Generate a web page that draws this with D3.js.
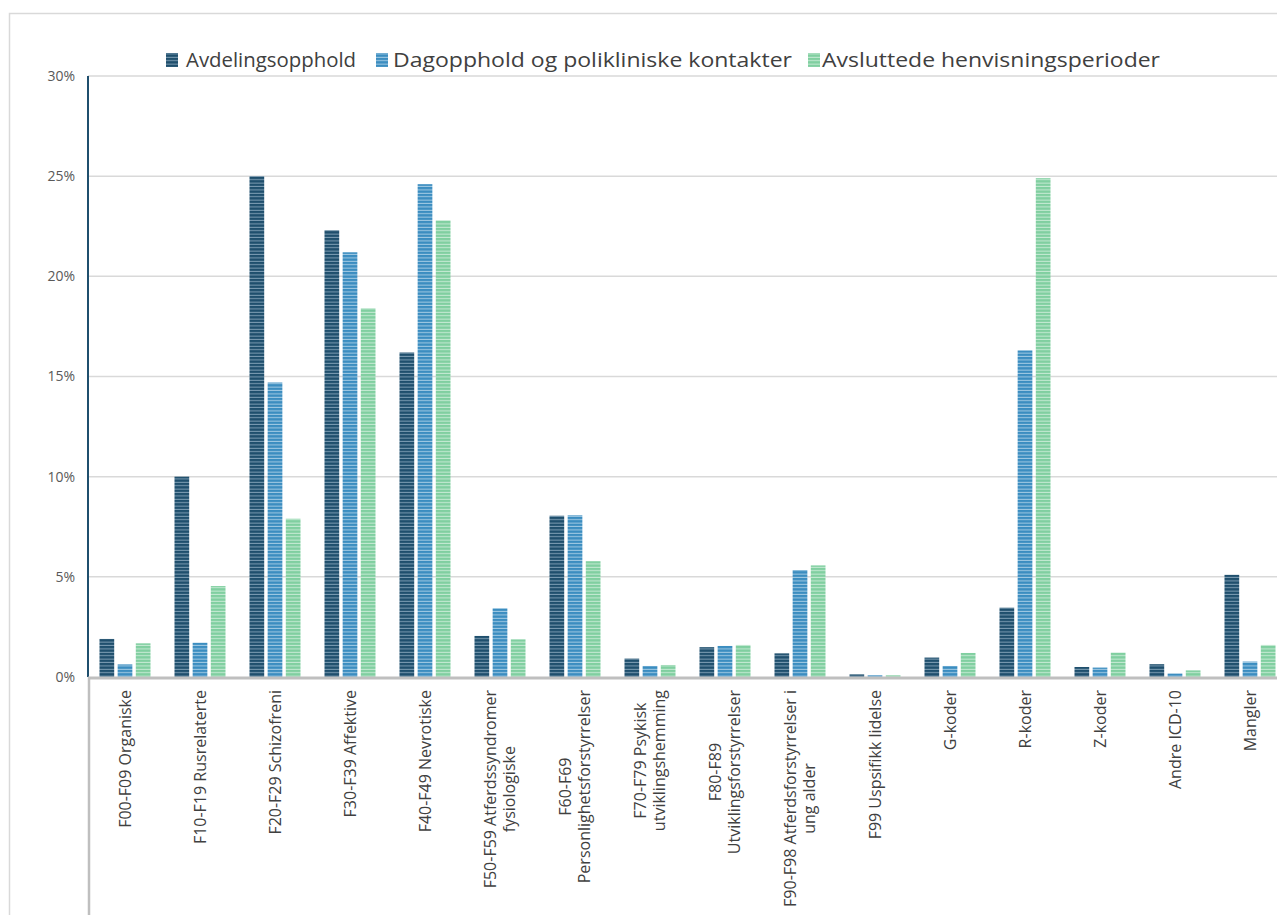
<!DOCTYPE html>
<html>
<head>
<meta charset="utf-8">
<script src="https://cdn.jsdelivr.net/npm/d3@7"></script>
<style>
  html, body { margin: 0; padding: 0; background: #fff; }
  svg { display: block; }
</style>
</head>
<body>
<svg id="chart" width="1277" height="915"></svg>
<script>
// Diagnosis groups
const categories = [
  "F00-F09 Organiske",
  "F10-F19 Rusrelaterte",
  "F20-F29 Schizofreni",
  "F30-F39 Affektive",
  "F40-F49 Nevrotiske",
  "F50-F59 Atferdssyndromer fysiologiske",
  "F60-F69 Personlighetsforstyrrelser",
  "F70-F79 Psykisk utviklingshemming",
  "F80-F89 Utviklingsforstyrrelser",
  "F90-F98 Atferdsforstyrrelser i ung alder",
  "F99 Uspsifikk lidelse",
  "G-koder",
  "R-koder",
  "Z-koder",
  "Andre ICD-10",
  "Mangler"
];
// How each category label wraps under the axis
const categoryLines = [
  ["F00-F09 Organiske"],
  ["F10-F19 Rusrelaterte"],
  ["F20-F29 Schizofreni"],
  ["F30-F39 Affektive"],
  ["F40-F49 Nevrotiske"],
  ["F50-F59 Atferdssyndromer", "fysiologiske"],
  ["F60-F69", "Personlighetsforstyrrelser"],
  ["F70-F79 Psykisk", "utviklingshemming"],
  ["F80-F89", "Utviklingsforstyrrelser"],
  ["F90-F98 Atferdsforstyrrelser i", "ung alder"],
  ["F99 Uspsifikk lidelse"],
  ["G-koder"],
  ["R-koder"],
  ["Z-koder"],
  ["Andre ICD-10"],
  ["Mangler"]
];

const seriesNames = [
  "Avdelingsopphold",
  "Dagopphold og polikliniske kontakter",
  "Avsluttede henvisningsperioder"
];

// Shares (fraction of total) per diagnosis group
const avdelingsopphold = [0.019, 0.100, 0.250, 0.223, 0.162, 0.0205, 0.0805, 0.0092, 0.0149, 0.0118, 0.0013, 0.0097, 0.0346, 0.0050, 0.0064, 0.0510];
const dagopphold       = [0.0063, 0.0171, 0.147, 0.212, 0.246, 0.0343, 0.0807, 0.0055, 0.0155, 0.0534, 0.0009, 0.0055, 0.163, 0.0047, 0.0017, 0.0077];
const henvisninger     = [0.0168, 0.0454, 0.079, 0.184, 0.228, 0.0188, 0.0578, 0.0060, 0.0160, 0.0557, 0.0009, 0.0120, 0.249, 0.0122, 0.0033, 0.0160];
const seriesValues = [avdelingsopphold, dagopphold, henvisninger];

const yTicks = [0, 0.05, 0.10, 0.15, 0.20, 0.25, 0.30];

const colors = [
  { base: "#1f4f6d", line: "#7d9db3" },
  { base: "#3b8dc0", line: "#a3cbe4" },
  { base: "#80cfa0", line: "#c6ead4" }
];

const svg = d3.select("#chart");
const W = 1277, H = 915;
const margin = { left: 88, top: 76, bottom: 677, right: 1287.5 };
const font = "'Open Sans', sans-serif";

// striped fills
const defs = svg.append("defs");
colors.forEach((c, i) => {
  const p = defs.append("pattern")
    .attr("id", "stripe" + i)
    .attr("patternUnits", "userSpaceOnUse")
    .attr("width", 8).attr("height", 3.4);
  p.append("rect").attr("width", 8).attr("height", 3.4).attr("fill", c.base);
  p.append("rect").attr("y", 2.4).attr("width", 8).attr("height", 1).attr("fill", c.line);
});

svg.append("rect").attr("width", W).attr("height", H).attr("fill", "#fff");

// outer frame
svg.append("rect")
  .attr("x", 9.5).attr("y", 13.5)
  .attr("width", W + 20).attr("height", H + 20)
  .attr("fill", "none").attr("stroke", "#d9d9d9").attr("stroke-width", 1.5);

const y = d3.scaleLinear().domain([0, 0.30]).range([margin.bottom, margin.top]);
const x0 = d3.scaleBand().domain(categories).range([margin.left - 0.5, margin.right])
  .paddingInner(0.32).paddingOuter(0.16);
const x1 = d3.scaleBand().domain(d3.range(seriesNames.length)).range([0, x0.bandwidth()])
  .paddingInner(0.19);

// gridlines
svg.append("g").selectAll("line").data(yTicks.filter(t => t > 0)).join("line")
  .attr("x1", margin.left).attr("x2", W)
  .attr("y1", d => y(d)).attr("y2", d => y(d))
  .attr("stroke", "#d9d9d9").attr("stroke-width", 1.5);

// y tick labels
const yAxis = d3.axisLeft(y).tickValues(yTicks).tickSize(0).tickPadding(13)
  .tickFormat(d => Math.round(d * 100) + "%");
const gy = svg.append("g").attr("transform", `translate(${margin.left},0)`).call(yAxis);
gy.select(".domain").remove();
gy.selectAll("text")
  .attr("font-family", font)
  .attr("font-size", 14)
  .attr("fill", "#595959");

// bars
const groups = svg.append("g").selectAll("g").data(categories).join("g")
  .attr("transform", d => `translate(${x0(d)},0)`);
groups.selectAll("rect")
  .data((d, ci) => seriesValues.map((vals, si) => ({ si, v: vals[ci] })))
  .join("rect")
  .attr("x", d => x1(d.si))
  .attr("width", x1.bandwidth())
  .attr("y", d => y(d.v))
  .attr("height", d => y(0) - y(d.v))
  .attr("fill", d => `url(#stripe${d.si})`);

// value axis line
svg.append("line")
  .attr("x1", margin.left).attr("x2", margin.left)
  .attr("y1", margin.top).attr("y2", margin.bottom)
  .attr("stroke", "#1f4f6d").attr("stroke-width", 2);

// category axis line and left rule below it
svg.append("line")
  .attr("x1", margin.left).attr("x2", W)
  .attr("y1", y(0) + 1).attr("y2", y(0) + 1)
  .attr("stroke", "#bfbfbf").attr("stroke-width", 3);
svg.append("line")
  .attr("x1", margin.left + 1).attr("x2", margin.left + 1)
  .attr("y1", y(0)).attr("y2", H)
  .attr("stroke", "#bfbfbf").attr("stroke-width", 2.5);

// category labels, rotated, centred line block hanging below the axis
const labelTop = 690, lineH = 19;
categories.forEach((c, i) => {
  const lines = categoryLines[i];
  const cx = x0(c) + x0.bandwidth() / 2;
  const g = svg.append("g").attr("transform", `translate(${cx},${labelTop}) rotate(-90)`);
  const texts = lines.map((ln, k) => g.append("text")
    .attr("y", (k - (lines.length - 1) / 2) * lineH)
    .attr("dy", "0.35em")
    .attr("text-anchor", "middle")
    .attr("font-family", font)
    .attr("font-size", 16)
    .attr("fill", "#404040")
    .text(ln));
  const maxW = d3.max(texts, t => t.node().getComputedTextLength());
  texts.forEach(t => t.attr("x", -maxW / 2));
});

// legend
const legendItems = [
  { x: 166, tx: 186, len: 170 },
  { x: 376, tx: 393, len: 399 },
  { x: 808, tx: 822, len: 338 }
];
const legend = svg.append("g");
seriesNames.forEach((name, i) => {
  legend.append("rect")
    .attr("x", legendItems[i].x).attr("y", 53)
    .attr("width", 12).attr("height", 14)
    .attr("fill", `url(#stripe${i})`);
  legend.append("text")
    .attr("x", legendItems[i].tx).attr("y", 60)
    .attr("dy", "0.35em")
    .attr("font-family", font)
    .attr("font-size", 20)
    .attr("textLength", legendItems[i].len)
    .attr("lengthAdjust", "spacingAndGlyphs")
    .attr("fill", "#404040")
    .text(name);
});
</script>
</body>
</html>
